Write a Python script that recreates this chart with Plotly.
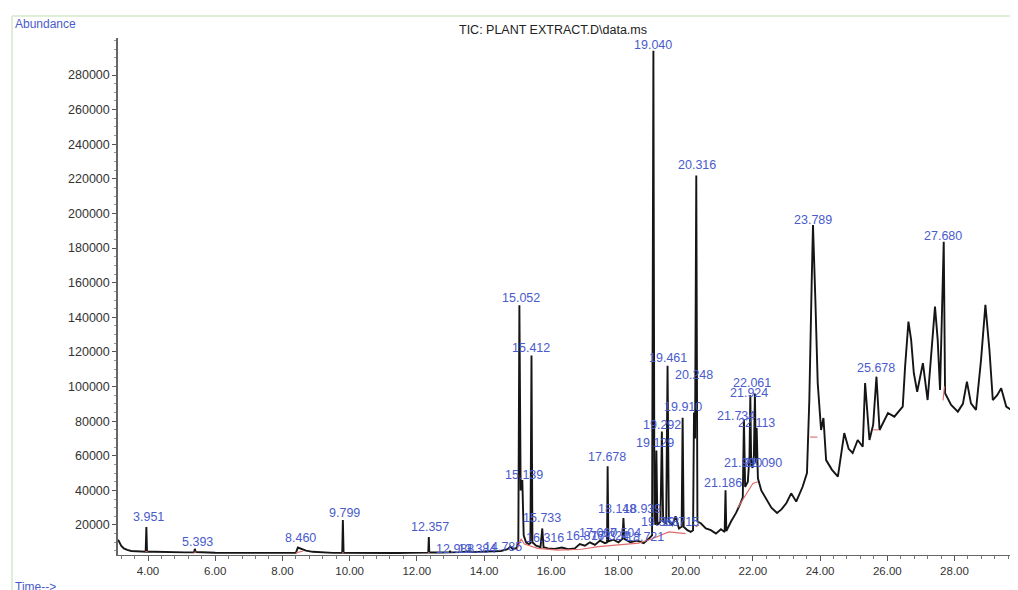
import plotly.graph_objects as go

# ---- chromatogram trace (retention time in min, abundance) ----
rt_time = [3.11, 3.15, 3.20, 3.28, 3.38, 3.50, 3.65, 3.80, 3.93, 3.951, 3.97, 4.20, 4.50, 4.80, 5.10,
           5.37, 5.393, 5.42, 5.70, 6.00, 6.40, 6.80, 7.20, 7.60, 8.00, 8.40, 8.46, 8.55, 8.70, 8.90,
           9.20, 9.50, 9.78, 9.799, 9.82, 10.20, 10.60, 11.00, 11.40, 11.80, 12.20, 12.34, 12.357, 12.37,
           12.70, 12.97, 12.988, 13.01, 13.30, 13.584, 13.62, 13.90, 14.20, 14.50, 14.70, 14.785, 14.85,
           14.95, 15.02, 15.052, 15.09, 15.139, 15.18, 15.25, 15.33, 15.38, 15.412, 15.44, 15.55, 15.68,
           15.733, 15.77, 15.90, 16.10, 16.316, 16.50, 16.70, 16.85, 17.00, 17.15, 17.30, 17.45, 17.60,
           17.66, 17.678, 17.70, 17.85, 18.00, 18.12, 18.148, 18.18, 18.35, 18.55, 18.75, 18.90, 19.00,
           19.040, 19.07, 19.10, 19.129, 19.16, 19.25, 19.292, 19.33, 19.42, 19.461, 19.50, 19.60, 19.70,
           19.80, 19.88, 19.910, 19.94, 20.05, 20.15, 20.22, 20.248, 20.28, 20.316, 20.35, 20.45, 20.60,
           20.75, 20.90, 21.05, 21.16, 21.186, 21.21, 21.35, 21.50, 21.62, 21.70, 21.734, 21.77, 21.85,
           21.90, 21.924, 21.95, 21.99, 22.03, 22.061, 22.09, 22.113, 22.15, 22.25, 22.42, 22.55, 22.72,
           22.85, 23.00, 23.14, 23.29, 23.48, 23.61, 23.68, 23.75, 23.789, 23.86, 23.93, 24.03, 24.10,
           24.18, 24.35, 24.53, 24.72, 24.85, 24.97, 25.12, 25.27, 25.34, 25.47, 25.58, 25.678, 25.77,
           25.90, 26.02, 26.21, 26.35, 26.46, 26.53, 26.63, 26.71, 26.79, 26.89, 27.06, 27.20, 27.35,
           27.42, 27.50, 27.57, 27.680, 27.72, 27.90, 28.10, 28.25, 28.37, 28.49, 28.64, 28.79, 28.92,
           29.04, 29.14, 29.27, 29.39, 29.54, 29.72, 29.93]
rt_abund = [11500, 9500, 8000, 6500, 5600, 5000, 4800, 4600, 4600, 18800, 4600, 4500, 4300, 4200, 4200,
            4200, 6200, 4400, 4100, 4000, 3900, 3900, 3800, 3900, 3800, 3900, 7000, 6200, 5200, 4500,
            4100, 3900, 3900, 22900, 3900, 3800, 3700, 3800, 3800, 3900, 4000, 4000, 13000, 4100,
            4100, 4200, 5000, 4200, 4300, 4800, 4300, 4400, 4600, 5000, 6000, 7500, 6200,
            6500, 9000, 147000, 40000, 46000, 14000, 10000, 9000, 9500, 118000, 10000, 8000, 7200,
            18000, 7200, 6500, 6200, 7000, 6000, 6500, 9000, 8000, 10000, 8500, 11000, 9500,
            10000, 54000, 10500, 11500, 10000, 12000, 24000, 12000, 10000, 11000, 9500, 12000, 14000,
            294000, 25000, 20000, 63000, 20000, 22000, 74000, 22000, 21000, 112000, 22000, 20000, 25000,
            18000, 19000, 82000, 19000, 17000, 16000, 17000, 85000, 70000, 222000, 22000, 21000, 18000,
            17000, 15000, 17500, 16000, 40000, 16500, 22000, 27000, 32000, 36000, 81000, 42000, 45000,
            60000, 95000, 55000, 53000, 60000, 96000, 56000, 76000, 47000, 40000, 34500, 30000, 27000,
            29000, 32700, 38300, 33500, 42100, 50000, 92200, 160000, 193400, 150000, 102000, 74900, 81800,
            57500, 52000, 47900, 73100, 64000, 61600, 69100, 65200, 102000, 69100, 78000, 105700, 74900,
            80000, 84700, 82600, 86000, 88400, 111500, 137500, 127000, 107700, 97000, 113500, 92200, 127000,
            146200, 127000, 98000, 183700, 96100, 89400, 85500, 90000, 102800, 90300, 86500, 115400, 147200,
            121100, 92200, 95000, 99000, 88400, 86000, 84600]

# ---- integration baselines (red) ----
base_segments = [
    ([3.92, 3.99], [4600, 4600]),
    ([5.36, 5.44], [4200, 4400]),
    ([8.40, 8.62], [3900, 5000]),
    ([9.77, 9.83], [3900, 3900]),
    ([12.33, 12.38], [4000, 4100]),
    ([14.98, 15.10, 15.20, 15.60, 16.20, 16.90, 17.40, 18.00, 18.60, 19.00, 19.50, 20.00],
     [5500, 12000, 9000, 6500, 5500, 6000, 7500, 8500, 9500, 12000, 16000, 15000]),
    ([20.30, 20.40], [19000, 20000]),
    ([21.55, 21.80, 22.00, 22.15], [30000, 38000, 44000, 45000]),
    ([23.70, 23.92], [70800, 70800]),
    ([25.58, 25.74], [75000, 75000]),
    ([27.66, 27.70], [92000, 100000]),
]

# ---- peak labels: text, label x (min), label y (abundance) ----
label_text = ["3.951", "5.393", "8.460", "9.799", "12.357", "12.988", "13.384", "14.785", "16.316",
              "15.052", "15.412", "15.139", "15.733", "17.678",
              "16.876", "17.060", "17.324", "17.504", "18.721", "18.148", "18.939", "19.563", "19.715",
              "19.040", "20.316", "19.461", "20.248", "19.910", "19.292", "19.129",
              "21.186", "21.734", "21.924", "22.061", "22.113", "21.990", "22.090",
              "23.789", "27.680", "25.678"]
label_x = [4.00, 5.46, 8.55, 9.86, 12.39, 13.14, 13.79, 14.57, 15.82,
           15.10, 15.40, 15.19, 15.73, 17.66,
           17.01, 17.39, 17.75, 18.11, 18.79, 17.96, 18.70, 19.24, 19.83,
           19.03, 20.34, 19.48, 20.25, 19.92, 19.30, 19.09,
           21.11, 21.50, 21.89, 21.98, 22.10, 21.71, 22.30,
           23.78, 27.66, 25.66]
label_y = [24600, 10200, 12500, 26900, 18800, 6100, 6100, 7300, 12500,
           151100, 122300, 48900, 24000, 59300,
           13600, 15400, 13600, 15400, 13000, 29200, 29200, 21700, 21700,
           297300, 228000, 116500, 106700, 88200, 77800, 67400,
           44300, 83000, 96300, 102000, 78900, 55800, 55800,
           196200, 187000, 110700]

y_ticks = list(range(20000, 280001, 20000))
x_ticks = list(range(4, 29, 2))

FONT = "Liberation Sans, Arial, sans-serif"
BLUE = "#4a5bcc"

fig = go.Figure()
fig.add_trace(go.Scatter(x=rt_time, y=rt_abund, mode="lines",
                         line=dict(color="#151515", width=1.9), hoverinfo="skip"))

bx, by = [], []
for xs, ys in base_segments:
    bx += xs + [None]
    by += ys + [None]
fig.add_trace(go.Scatter(x=bx, y=by, mode="lines",
                         line=dict(color="#e06a6a", width=1.1), hoverinfo="skip"))

annotations = []
for t, xx, yy in zip(label_text, label_x, label_y):
    annotations.append(dict(x=xx, y=yy, xref="x", yref="y", text=t, showarrow=False,
                            xanchor="center", yanchor="middle",
                            font=dict(family=FONT, size=12.5, color=BLUE)))

annotations += [
    dict(x=0.483, y=1.0155, xref="paper", yref="paper", text="TIC: PLANT EXTRACT.D\\data.ms",
         showarrow=False, xanchor="center", yanchor="middle",
         font=dict(family=FONT, size=12.5, color="#222")),
    dict(x=-0.1167, y=1.027, xref="paper", yref="paper", text="Abundance",
         showarrow=False, xanchor="left", yanchor="middle",
         font=dict(family=FONT, size=12, color=BLUE)),
    dict(x=-0.1167, y=-0.062, xref="paper", yref="paper", text="Time-->",
         showarrow=False, xanchor="left", yanchor="middle",
         font=dict(family=FONT, size=12, color=BLUE)),
]

shapes = [
    dict(type="line", xref="paper", yref="paper", x0=-0.1178, x1=1.0, y0=1.0426, y1=1.0426,
         line=dict(color="#dfeed6", width=2)),
    dict(type="line", xref="paper", yref="paper", x0=-0.1178, x1=-0.1178, y0=-0.08, y1=1.0426,
         line=dict(color="#dfeed6", width=2)),
]

# page body has an 8px default margin, so the figure is sized/offset to compensate
fig.update_layout(
    width=1010, height=582,
    margin=dict(l=110, r=0, t=30, b=35),
    paper_bgcolor="white", plot_bgcolor="white",
    showlegend=False,
    annotations=annotations, shapes=shapes,
    font=dict(family=FONT, color="#333"),
)
fig.update_xaxes(range=[3.107, 29.89], tickvals=x_ticks,
                 ticktext=[f"{v:.2f}" for v in x_ticks],
                 ticks="outside", ticklen=5, tickcolor="#555", showline=True, linecolor="#666",
                 linewidth=1, showgrid=False, zeroline=False,
                 tickfont=dict(family=FONT, size=11.5, color="#333"),
                 minor=dict(dtick=0.4, tick0=0, ticks="outside", ticklen=3, tickcolor="#777"))
fig.update_yaxes(range=[2660, 301400], tickvals=y_ticks,
                 ticktext=[str(v) for v in y_ticks],
                 ticks="outside", ticklen=4, tickcolor="#555", showline=True, linecolor="#666",
                 linewidth=1.5, showgrid=False, zeroline=False,
                 tickfont=dict(family=FONT, size=12.5, color="#333"),
                 minor=dict(dtick=5000, tick0=0, ticks="outside", ticklen=2, tickcolor="#999"))

fig.write_html("out.html")
